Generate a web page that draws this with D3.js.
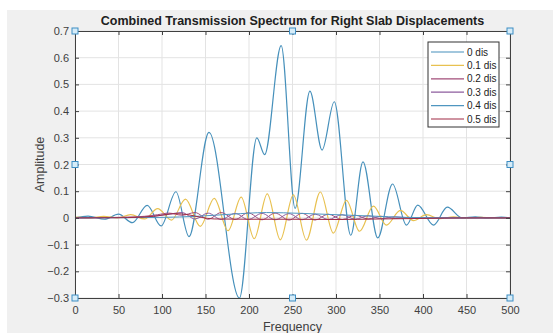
<!DOCTYPE html>
<html>
<head>
<meta charset="utf-8">
<script src="https://cdn.jsdelivr.net/npm/d3@7"></script>
<style>
  body { margin: 0; background: #fff; }
  svg { display: block; font-family: "Liberation Sans", Arial, sans-serif; }
</style>
</head>
<body>
<svg></svg>
<script>
// Series names and colours (legend order)
var seriesNames = ["0 dis", "0.1 dis", "0.2 dis", "0.3 dis", "0.4 dis", "0.5 dis"];
var seriesColors = ["#4690bb", "#e8c150", "#a24d79", "#8d5c9e", "#4f96c0", "#a02a44"];

// Values (frequency, amplitude) at turning points
var freq0 = [0, 15, 34, 50, 66, 83, 99, 116, 131, 154, 189, 209, 218, 237, 253, 270, 284, 298, 317, 331, 348, 365, 381, 394, 412, 428, 445, 460, 475, 490, 500];
var amp0  = [0, 0.007, -0.005, 0.014, -0.018, 0.047, -0.03, 0.098, -0.07, 0.32, -0.3, 0.3, 0.237, 0.645, 0.036, 0.475, 0.254, 0.435, -0.065, 0.21, -0.075, 0.127, -0.027, 0.048, -0.027, 0.04, 0, 0.004, 0, 0.003, 0];

var freq1 = [0, 18, 33, 49, 64, 80, 95, 111, 127, 144, 160, 176, 191, 206, 221, 236, 251, 266, 282, 297, 312, 327, 343, 358, 374, 389, 404, 419, 435, 450, 466, 481, 500];
var amp1  = [0.003, 0, 0.006, 0, 0.012, -0.004, 0.035, -0.008, 0.07, -0.032, 0.073, -0.048, 0.078, -0.078, 0.09, -0.082, 0.086, -0.083, 0.097, -0.057, 0.066, -0.05, 0.044, -0.027, 0.028, -0.01, 0.012, -0.003, 0.004, -0.001, 0.002, 0, 0];

var freq2 = [0, 30, 60, 80, 95, 108, 123, 138, 153, 168, 184, 199, 215, 230, 246, 261, 276, 291, 307, 322, 337, 352, 368, 383, 410, 450, 500];
var amp2  = [0, 0.001, 0.003, 0.006, 0.012, 0.018, 0.01, 0.02, -0.005, 0.02, -0.006, 0.019, -0.007, 0.018, -0.008, 0.017, -0.008, 0.014, -0.006, 0.01, -0.004, 0.006, -0.002, 0.002, 0, 0, 0];

var freq3 = [0, 40, 70, 90, 105, 123, 138, 153, 168, 184, 199, 215, 230, 246, 261, 276, 291, 307, 322, 337, 352, 368, 390, 420, 500];
var amp3  = [0, 0.001, 0.002, 0.006, 0.012, 0.02, -0.004, 0.018, -0.006, 0.017, -0.006, 0.017, -0.007, 0.016, -0.007, 0.014, -0.006, 0.012, -0.005, 0.008, -0.003, 0.004, -0.001, 0, 0];

var freq4 = [0, 60, 100, 140, 180, 220, 260, 300, 340, 380, 420, 500];
var amp4  = [0, 0.001, 0.002, 0.006, 0.014, 0.02, 0.017, 0.012, 0.007, 0.002, 0, 0];

var freq5 = [0, 60, 90, 115, 130, 145, 160, 200, 250, 300, 350, 400, 450, 500];
var amp5  = [0, 0.001, 0.006, 0.016, 0.012, 0.002, -0.004, -0.005, -0.005, -0.006, -0.004, -0.002, 0, 0];

var xTicks = [0, 50, 100, 150, 200, 250, 300, 350, 400, 450, 500];
var yTicks = [-0.3, -0.2, -0.1, 0, 0.1, 0.2, 0.3, 0.4, 0.5, 0.6, 0.7];

var freqs = [freq0, freq1, freq2, freq3, freq4, freq5];
var amps = [amp0, amp1, amp2, amp3, amp4, amp5];

// Figure size and plot box
var W = 553, H = 333;
var margin = {top: 31, right: 43, bottom: 35, left: 75},
    width = W - margin.left - margin.right,
    height = H - margin.top - margin.bottom;

var svg = d3.select("svg")
    .attr("width", W)
    .attr("height", H);

// grey figure background
svg.append("rect")
    .attr("x", 7).attr("y", 10)
    .attr("width", W - 7).attr("height", H - 10)
    .attr("fill", "#f0f0f0");

var g = svg.append("g")
    .attr("transform", `translate(${margin.left},${margin.top})`);

var x = d3.scaleLinear().domain([0, 500]).range([0, width]);
var y = d3.scaleLinear().domain([-0.3, 0.7]).range([height, 0]);

g.append("rect")
    .attr("width", width).attr("height", height)
    .attr("fill", "#fff");

// grid
g.selectAll("line.gx").data(xTicks).enter().append("line")
    .attr("x1", d => x(d)).attr("x2", d => x(d))
    .attr("y1", 0).attr("y2", height)
    .attr("stroke", "#e3e3e3").attr("stroke-width", 1);
g.selectAll("line.gy").data(yTicks).enter().append("line")
    .attr("x1", 0).attr("x2", width)
    .attr("y1", d => y(d)).attr("y2", d => y(d))
    .attr("stroke", "#e3e3e3").attr("stroke-width", 1);

// lines
var line = d3.line()
    .x(d => x(d[0]))
    .y(d => y(d[1]))
    .curve(d3.curveMonotoneX);

seriesNames.forEach((name, i) => {
    var pts = freqs[i].map((f, j) => [f, amps[i][j]]);
    g.append("path")
        .datum(pts)
        .attr("fill", "none")
        .attr("stroke", seriesColors[i])
        .attr("stroke-width", i < 2 ? 1.2 : 1)
        .attr("d", line);
});

// axes (box with inward ticks on all sides)
var axisColor = "#404040";
var xB = g.append("g").attr("transform", `translate(0,${height})`)
    .call(d3.axisBottom(x).tickValues(xTicks).tickSizeInner(-4).tickSizeOuter(0).tickPadding(8));
var yL = g.append("g")
    .call(d3.axisLeft(y).tickValues(yTicks).tickSizeInner(-4).tickSizeOuter(0).tickPadding(6)
        .tickFormat(d => d3.format("")(+d.toFixed(1))));
var xT = g.append("g")
    .call(d3.axisTop(x).tickValues(xTicks).tickSizeInner(-4).tickSizeOuter(0).tickFormat(""));
var yR = g.append("g").attr("transform", `translate(${width},0)`)
    .call(d3.axisRight(y).tickValues(yTicks).tickSizeInner(-4).tickSizeOuter(0).tickFormat(""));

[xB, yL, xT, yR].forEach(a => {
    a.selectAll("path").attr("stroke", axisColor);
    a.selectAll("line").attr("stroke", axisColor);
    a.selectAll("text").attr("fill", "#404040").style("font-size", "11px").style("font-family", "Liberation Sans, Arial, sans-serif");
});

// title and axis labels
svg.append("text")
    .attr("x", margin.left + width / 2)
    .attr("y", 25)
    .attr("text-anchor", "middle")
    .style("font-weight", "bold")
    .style("font-size", "12.5px")
    .attr("fill", "#202020")
    .text("Combined Transmission Spectrum for Right Slab Displacements");

svg.append("text")
    .attr("x", margin.left + width / 2)
    .attr("y", 331)
    .attr("text-anchor", "middle")
    .style("font-size", "12.5px")
    .attr("fill", "#404040")
    .text("Frequency");

svg.append("text")
    .attr("transform", `translate(44,${margin.top + height / 2}) rotate(-90)`)
    .attr("text-anchor", "middle")
    .style("font-size", "12.5px")
    .attr("fill", "#404040")
    .text("Amplitude");

// legend
var lg = g.append("g").attr("transform", `translate(${width - 82},11)`);
lg.append("rect")
    .attr("width", 71).attr("height", 85)
    .attr("fill", "#fff").attr("stroke", "#333").attr("stroke-width", 1);
seriesNames.forEach((name, i) => {
    var yy = 10 + i * 13.4;
    lg.append("line")
        .attr("x1", 3).attr("x2", 36)
        .attr("y1", yy).attr("y2", yy)
        .attr("stroke", seriesColors[i]).attr("stroke-width", 1.2);
    lg.append("text")
        .attr("x", 39).attr("y", yy + 3.5)
        .style("font-size", "10px")
        .attr("fill", "#222")
        .text(name);
});

// selection handles on the axes box
var handles = [[0, 0.7], [250, 0.7], [500, 0.7], [0, 0.2], [500, 0.2], [0, -0.3], [250, -0.3], [500, -0.3]];
g.selectAll("rect.handle").data(handles).enter().append("rect")
    .attr("class", "handle")
    .attr("x", d => x(d[0]) - 3).attr("y", d => y(d[1]) - 3)
    .attr("width", 6).attr("height", 6)
    .attr("fill", "#d6ecf8").attr("stroke", "#3d8ec4").attr("stroke-width", 1);
</script>
</body>
</html>
